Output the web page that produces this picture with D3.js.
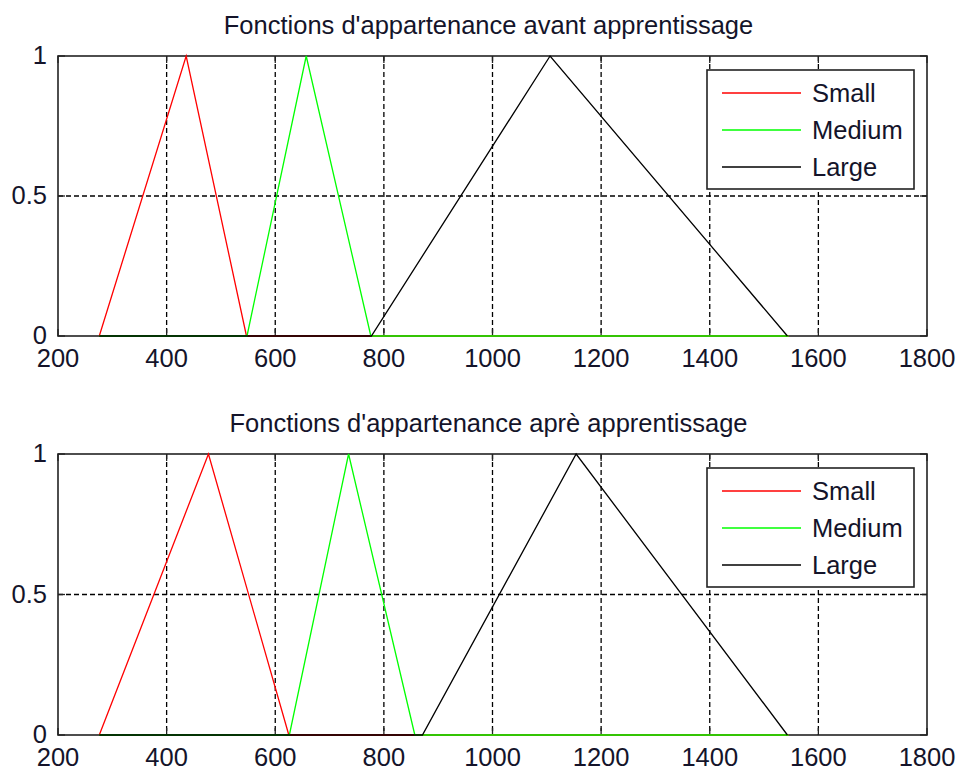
<!DOCTYPE html>
<html>
<head>
<meta charset="utf-8">
<script src="https://cdn.jsdelivr.net/npm/d3@7"></script>
<style>
  html, body { margin: 0; padding: 0; background: #fff; }
  svg { display: block; font-family: "Liberation Sans", Arial, sans-serif; }
</style>
</head>
<body>
<svg id="chart" width="957" height="771"></svg>
<script>
// Membership functions (universe of discourse) before and after training
const seriesNames = ["Small", "Medium", "Large"];
const seriesColors = ["#ff0000", "#00ff00", "#000000"];
const xTicks = [200, 400, 600, 800, 1000, 1200, 1400, 1600, 1800];
const yTicks = [0, 0.5, 1];
const titles = [
  "Fonctions d'appartenance avant apprentissage",
  "Fonctions d'appartenance aprè apprentissage"
];

// Before training: [x, membership] breakpoints over the input range
const smallBefore  = [[276, 0], [436, 1], [547, 0], [1545, 0]];
const mediumBefore = [[276, 0], [548, 0], [657, 1], [776, 0], [1545, 0]];
const largeBefore  = [[276, 0], [777, 0], [1106, 1], [1543, 0]];

// After training
const smallAfter  = [[276, 0], [477, 1], [625, 0], [1545, 0]];
const mediumAfter = [[276, 0], [626, 0], [735, 1], [857, 0], [1545, 0]];
const largeAfter  = [[276, 0], [871, 0], [1154, 1], [1543, 0]];

const panels = [
  { title: titles[0], series: [smallBefore, mediumBefore, largeBefore], top: 56, bottom: 336 },
  { title: titles[1], series: [smallAfter, mediumAfter, largeAfter], top: 454, bottom: 735 }
];

const svg = d3.select("#chart");
const left = 58, right = 927;
const textColor = "#14142a";
const fontSize = 25.5;

panels.forEach(p => {
  const x = d3.scaleLinear().domain([200, 1800]).range([left, right]);
  const y = d3.scaleLinear().domain([0, 1]).range([p.bottom, p.top]);
  const g = svg.append("g");

  // dashed grid
  g.append("g").selectAll("line").data(xTicks.slice(1, -1)).join("line")
    .attr("x1", d => x(d)).attr("x2", d => x(d))
    .attr("y1", p.top).attr("y2", p.bottom)
    .attr("stroke", "#000").attr("stroke-width", 1.3)
    .attr("stroke-dasharray", "5,3");
  g.append("g").selectAll("line").data(yTicks.slice(1, -1)).join("line")
    .attr("y1", d => y(d)).attr("y2", d => y(d))
    .attr("x1", left).attr("x2", right)
    .attr("stroke", "#000").attr("stroke-width", 1.3)
    .attr("stroke-dasharray", "5,3");

  // inward tick marks on all four sides
  const tl = 7;
  const ticks = g.append("g").attr("stroke", "#222").attr("stroke-width", 1.3);
  xTicks.forEach(t => {
    ticks.append("line").attr("x1", x(t)).attr("x2", x(t)).attr("y1", p.bottom).attr("y2", p.bottom - tl);
    ticks.append("line").attr("x1", x(t)).attr("x2", x(t)).attr("y1", p.top).attr("y2", p.top + tl);
  });
  yTicks.forEach(t => {
    ticks.append("line").attr("y1", y(t)).attr("y2", y(t)).attr("x1", left).attr("x2", left + tl);
    ticks.append("line").attr("y1", y(t)).attr("y2", y(t)).attr("x1", right).attr("x2", right - tl);
  });

  // frame
  g.append("rect")
    .attr("x", left).attr("y", p.top)
    .attr("width", right - left).attr("height", p.bottom - p.top)
    .attr("fill", "none").attr("stroke", "#222").attr("stroke-width", 1.6);

  // curves, drawn in order so later series sit on top
  const line = d3.line().x(d => x(d[0])).y(d => y(d[1]));
  p.series.forEach((s, i) => {
    g.append("path").datum(s)
      .attr("d", line)
      .attr("fill", "none")
      .attr("stroke", seriesColors[i])
      .attr("stroke-width", 1.3);
  });

  // tick labels
  g.append("g").selectAll("text").data(xTicks).join("text")
    .attr("x", d => x(d)).attr("y", p.bottom + 31)
    .attr("text-anchor", "middle")
    .attr("font-size", fontSize).attr("fill", textColor)
    .text(d => d);
  g.append("g").selectAll("text").data(yTicks).join("text")
    .attr("x", left - 11).attr("y", d => y(d) + 8)
    .attr("text-anchor", "end")
    .attr("font-size", fontSize).attr("fill", textColor)
    .text(d => d);

  // title
  g.append("text")
    .attr("x", (left + right) / 2 - 4).attr("y", p.top - 22)
    .attr("text-anchor", "middle")
    .attr("font-size", fontSize).attr("fill", textColor)
    .text(p.title);

  // legend
  const lx = 707, ly = p.top + 14, lw = 207, lh = 119;
  const lg = g.append("g");
  lg.append("rect").attr("x", lx).attr("y", ly).attr("width", lw).attr("height", lh)
    .attr("fill", "#fff").attr("stroke", "#222").attr("stroke-width", 1.6);
  seriesNames.forEach((name, i) => {
    const cy = ly + 23 + i * 37;
    lg.append("line").attr("x1", lx + 15).attr("x2", lx + 94)
      .attr("y1", cy).attr("y2", cy)
      .attr("stroke", seriesColors[i]).attr("stroke-width", 1.3);
    lg.append("text").attr("x", lx + 105).attr("y", cy + 9)
      .attr("font-size", fontSize).attr("fill", textColor)
      .text(name);
  });
});
</script>
</body>
</html>
